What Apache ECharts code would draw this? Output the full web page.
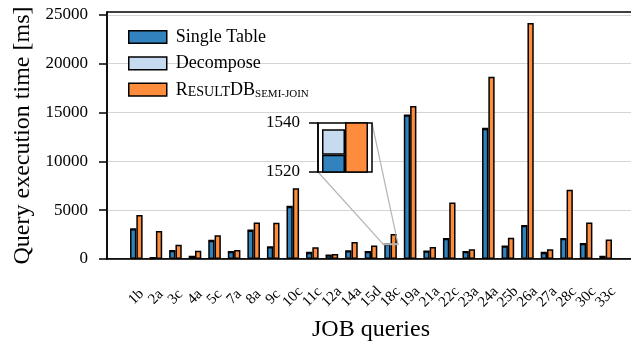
<!DOCTYPE html>
<html>
<head>
<meta charset="utf-8">
<script src="https://cdn.jsdelivr.net/npm/echarts@6/dist/echarts.min.js"></script>
<style>html,body{margin:0;padding:0;background:#fff}#c{width:631px;height:343px}</style>
</head>
<body>
<div id="c"></div>
<script>
const categories = ['1b','2a','3c','4a','5c','7a','8a','9c','10c','11c','12a','14a','15d','18c','19a','21a','22c','23a','24a','25b','26a','27a','28c','30c','33c'];
const singleTable = [3070, 120, 850, 240, 1880, 750, 2930, 1230, 5360, 650, 380, 820, 750, 1527, 14720, 790, 2080, 750, 13350, 1300, 3410, 650, 2080, 1570, 240];
const decompose = [12, 8, 9, 7, 11, 8, 12, 9, 15, 8, 7, 9, 8, 10.4, 18, 8, 11, 8, 16, 9, 12, 8, 11, 9, 7];
const resultDB = [4500, 2870, 1470, 850, 2420, 920, 3750, 3720, 7240, 1200, 510, 1740, 1370, 2560, 15670, 1230, 5800, 990, 18670, 2180, 24170, 990, 7100, 3750, 2010];
const yTicks = [0, 5000, 10000, 15000, 20000, 25000];
const insetCategory = '18c';
const insetTicks = [1520, 1540];

const FONT = 'Liberation Serif';
const C_ST = '#3182bd', C_DE = '#c6dbef', C_RD = '#fd8d3c';
const pad = arr => ['-', ...arr, '-'];
const axisCats = ['', ...categories, ''];
const realIdx = i => i >= 1 && i <= categories.length;
const insetIdx = categories.indexOf(insetCategory);
const border = {borderColor: '#000', borderWidth: 1.5};
const plain = v => String(v);

const chart = echarts.init(document.getElementById('c'), null, {renderer: 'canvas'});
const option = {
  animation: false,
  backgroundColor: '#fff',
  textStyle: {fontFamily: FONT, color: '#000'},
  grid: [
    {left: 107, top: 12, right: -4, bottom: 84, containLabel: false, outerBoundsMode: 'none',
      show: true, borderColor: '#000', borderWidth: 1.5, backgroundColor: 'transparent', z: 0},
    {left: 318, top: 123, width: 54, height: 49, containLabel: false, outerBoundsMode: 'none',
      show: true, borderColor: '#000', borderWidth: 1.5, backgroundColor: '#fff', z: 10}
  ],
  legend: {
    orient: 'vertical', left: 123, top: 22, itemWidth: 38, itemHeight: 12.7, itemGap: 6.3,
    icon: 'rect',
    itemStyle: {borderColor: '#000', borderWidth: 1.5},
    data: ['Single Table', 'Decompose', 'ResultDB semi-join'],
    formatter: n => n === 'ResultDB semi-join' ? '{a|R}{b|ESULT}{a|DB}{c|SEMI-JOIN}' : n,
    textStyle: {
      fontFamily: FONT, fontSize: 18, color: '#000', lineHeight: 20, padding: [0, 0, 0, 4],
      rich: {
        a: {fontFamily: FONT, fontSize: 18, lineHeight: 20, verticalAlign: 'bottom', color: '#000'},
        b: {fontFamily: FONT, fontSize: 14, lineHeight: 17.6, verticalAlign: 'bottom', color: '#000'},
        c: {fontFamily: FONT, fontSize: 11, lineHeight: 11, verticalAlign: 'bottom', color: '#000'}
      }
    }
  },
  xAxis: [
    {
      type: 'category', gridIndex: 0, data: axisCats, boundaryGap: true,
      name: 'JOB queries', nameLocation: 'middle', nameGap: 59, nameMoveOverlap: false,
      nameTextStyle: {fontFamily: FONT, fontSize: 24, color: '#000'},
      axisLine: {lineStyle: {color: '#000', width: 1.5}},
      axisTick: {alignWithLabel: true, interval: realIdx, length: 8, lineStyle: {color: '#000', width: 1.5}},
      axisLabel: {interval: 0, rotate: 45, align: 'center', verticalAlign: 'middle', margin: 38,
        fontFamily: FONT, fontSize: 15, color: '#000'},
      splitLine: {show: false}
    },
    {
      type: 'category', gridIndex: 1, data: [insetCategory], boundaryGap: true,
      axisLine: {show: false}, axisTick: {show: false}, axisLabel: {show: false}, splitLine: {show: false}
    }
  ],
  yAxis: [
    {
      type: 'value', gridIndex: 0, min: 0, max: 25300,
      name: 'Query execution time [ms]', nameLocation: 'middle', nameRotate: 90, nameGap: 72, nameMoveOverlap: false,
      nameTextStyle: {fontFamily: FONT, fontSize: 24, color: '#000'},
      axisLine: {show: true, lineStyle: {color: '#000', width: 1.5}},
      axisTick: {show: true, length: 8, customValues: yTicks, lineStyle: {color: '#000', width: 1.5}},
      axisLabel: {customValues: yTicks, formatter: plain, margin: 19, fontFamily: FONT, fontSize: 17, color: '#000'},
      splitLine: {show: true, lineStyle: {color: '#d4d4d4', width: 1}}
    },
    {
      type: 'value', gridIndex: 1, min: insetTicks[0], max: insetTicks[1], interval: 20,
      axisLine: {show: true, lineStyle: {color: '#000', width: 1.5}},
      axisTick: {show: true, length: 9, lineStyle: {color: '#000', width: 1.5}},
      axisLabel: {formatter: plain, margin: 18, fontFamily: FONT, fontSize: 17, color: '#000'},
      splitLine: {show: false}, z: 12
    }
  ],
  series: [
    {name: 'Single Table', type: 'bar', xAxisIndex: 0, yAxisIndex: 0, stack: 'a', barWidth: 6.3, barGap: '0%',
      data: pad(singleTable), itemStyle: Object.assign({color: C_ST}, border), z: 2},
    {name: 'Decompose', type: 'bar', xAxisIndex: 0, yAxisIndex: 0, stack: 'a', barWidth: 6.3, barGap: '0%',
      data: pad(decompose), itemStyle: Object.assign({color: C_DE}, border), z: 2},
    {name: 'ResultDB semi-join', type: 'bar', xAxisIndex: 0, yAxisIndex: 0, barWidth: 6.3, barGap: '0%',
      data: pad(resultDB), itemStyle: Object.assign({color: C_RD}, border), z: 2},
    {name: 'Single Table', type: 'bar', xAxisIndex: 1, yAxisIndex: 1, stack: 'i', barWidth: 23, barGap: '0%', clip: true,
      data: [singleTable[insetIdx]], itemStyle: Object.assign({color: C_ST}, border), z: 11},
    {name: 'Decompose', type: 'bar', xAxisIndex: 1, yAxisIndex: 1, stack: 'i', barWidth: 23, barGap: '0%', clip: true,
      data: [decompose[insetIdx]], itemStyle: Object.assign({color: C_DE}, border), z: 11},
    {name: 'ResultDB semi-join', type: 'bar', xAxisIndex: 1, yAxisIndex: 1, barWidth: 23, barGap: '0%', clip: true,
      data: [resultDB[insetIdx]], itemStyle: Object.assign({color: C_RD}, border), z: 11}
  ]
};
chart.setOption(option);

// zoom indicator region and connector lines
const c0 = chart.convertToPixel({xAxisIndex: 0, yAxisIndex: 0}, [insetIdx + 1, insetTicks[0]]);
const c1 = chart.convertToPixel({xAxisIndex: 0, yAxisIndex: 0}, [insetIdx + 2, insetTicks[1]]);
const band = c1[0] - c0[0];
const halfW = band * 0.378;
const rx0 = c0[0] - halfW, rx1 = c0[0] + halfW;
const ryB = c0[1], ryT = c1[1];
const irect = chart.getModel().getComponent('grid', 1).coordinateSystem.getRect();
const gray = '#b5b5b5';
chart.setOption({
  graphic: [
    {type: 'line', z: 9, shape: {x1: irect.x, y1: irect.y + irect.height, x2: rx0, y2: ryB}, style: {stroke: gray, lineWidth: 1.2}},
    {type: 'line', z: 9, shape: {x1: irect.x + irect.width, y1: irect.y, x2: rx1, y2: ryT}, style: {stroke: gray, lineWidth: 1.2}},
    {type: 'rect', z: 9, shape: {x: rx0, y: ryT, width: rx1 - rx0, height: Math.max(ryB - ryT, 0.5)}, style: {fill: 'none', stroke: gray, lineWidth: 1.5}}
  ]
});
</script>
</body>
</html>
